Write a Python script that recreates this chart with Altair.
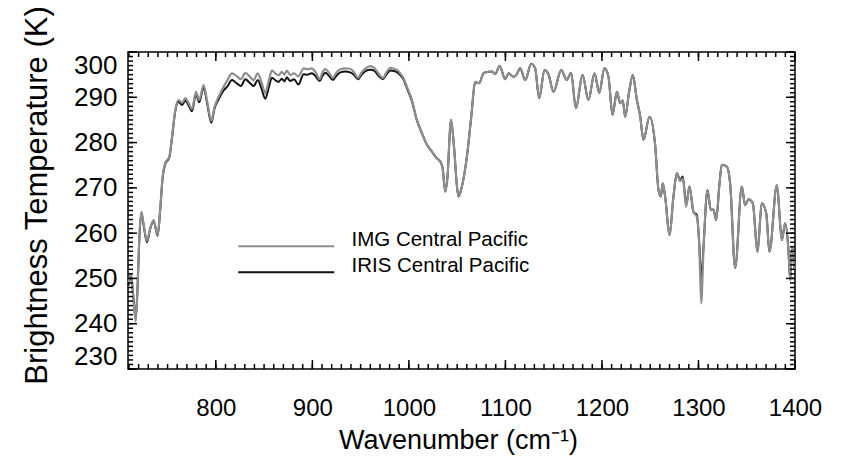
import altair as alt
import pandas as pd

# ---------------- data ----------------
wavenumber = [
    709.5, 712.0, 715.0, 717.0, 719.0, 720.7, 722.8, 725.0, 728.7, 732.0,
    735.5, 739.7, 742.5, 744.9, 747.6, 751.8, 754.6, 758.0, 761.4, 765.0,
    768.4, 771.8, 775.3, 779.4, 782.8, 787.3, 790.8, 795.3, 798.7, 802.8,
    808.0, 812.0, 816.7, 822.0, 826.0, 830.5, 835.0, 839.2, 843.4, 847.5,
    851.2, 855.0, 858.0, 862.0, 865.0, 868.4, 871.0, 873.6, 877.0, 881.0,
    885.5, 891.0, 895.0, 899.5, 903.5, 907.5, 910.5, 913.4, 917.0, 921.3,
    925.0, 929.0, 934.0, 939.2, 943.0, 947.2, 951.0, 955.0, 960.0, 964.0,
    968.0, 973.1, 977.0, 980.7, 984.5, 988.0, 991.0, 994.5, 998.0, 1003.1,
    1008.3, 1013.5, 1018.7, 1023.9, 1029.0, 1032.5, 1035.0, 1037.6, 1040.0, 1043.5,
    1047.0, 1049.5, 1051.4, 1054.9, 1060.1, 1064.6, 1068.7, 1072.8, 1077.3, 1081.5,
    1086.0, 1089.4, 1093.9, 1099.8, 1103.2, 1108.4, 1111.5, 1115.3, 1120.5, 1126.7,
    1130.8, 1135.0, 1140.5, 1144.6, 1149.8, 1157.8, 1163.6, 1168.0, 1173.0, 1179.9,
    1186.0, 1192.3, 1197.2, 1202.6, 1206.8, 1210.9, 1215.5, 1218.9, 1221.5, 1224.1,
    1228.0, 1232.0, 1236.2, 1239.5, 1243.0, 1249.3, 1255.1, 1258.6, 1261.0, 1263.0,
    1265.5, 1270.0, 1274.1, 1277.6, 1281.0, 1283.8, 1287.2, 1290.7, 1294.8, 1298.3,
    1301.0, 1302.8, 1305.2, 1309.3, 1312.8, 1315.5, 1318.3, 1321.8, 1324.2, 1329.4,
    1332.8, 1338.0, 1344.9, 1348.3, 1351.8, 1356.3, 1361.1, 1365.6, 1370.2, 1373.5,
    1381.2, 1386.4, 1389.8, 1393.2, 1395.0, 1397.0, 1399.5,
]

img_bt = [
    249.0, 251.0, 244.5, 240.5, 249.0, 259.0, 264.7, 262.3, 258.3, 261.1,
    262.9, 259.6, 265.8, 272.5, 275.5, 276.9, 281.3, 287.2, 289.4, 288.8,
    289.8, 288.7, 287.4, 291.2, 289.4, 292.7, 289.4, 284.8, 287.9, 290.1,
    292.3, 293.8, 295.3, 294.6, 294.0, 295.4, 294.6, 293.8, 295.3, 293.2,
    290.9, 293.8, 295.9, 295.2, 294.9, 295.6, 295.0, 295.9, 294.9, 295.3,
    294.6, 296.4, 296.2, 296.4, 295.5, 294.0, 295.5, 296.2, 295.5, 294.3,
    295.5, 296.2, 296.4, 296.3, 295.6, 294.3, 295.5, 296.4, 296.9, 296.5,
    295.4, 294.3, 295.6, 296.5, 296.3, 296.0, 295.3, 294.2, 292.3, 289.4,
    285.0, 282.1, 279.5, 278.0, 276.5, 275.8, 274.3, 269.2, 272.5, 285.0,
    278.4, 271.0, 268.1, 270.3, 276.9, 285.7, 293.4, 293.1, 295.3, 295.6,
    295.7, 295.1, 296.9, 294.0, 295.3, 294.5, 295.0, 296.4, 293.8, 297.4,
    296.4, 289.8, 296.0, 295.1, 291.2, 296.0, 293.8, 295.4, 287.6, 294.9,
    289.4, 295.3, 291.0, 296.4, 294.5, 286.1, 291.2, 288.7, 289.3, 285.7,
    291.0, 294.9, 289.4, 286.0, 280.6, 285.7, 279.5, 269.5, 268.1, 271.0,
    268.0, 259.6, 268.1, 273.2, 271.5, 272.1, 265.8, 270.3, 264.7, 263.6,
    256.3, 244.5, 256.3, 269.5, 265.1, 265.2, 262.9, 271.0, 275.1, 274.7,
    271.0, 252.3, 270.3, 266.2, 267.5, 266.6, 255.9, 266.6, 264.4, 255.9,
    270.6, 258.5, 262.2, 256.3, 249.7, 257.0, 252.0,
]

iris_bt = [
    248.5, 250.5, 245.0, 241.0, 248.5, 258.5, 264.5, 262.0, 258.0, 261.0,
    262.7, 259.4, 265.5, 272.3, 275.3, 276.7, 281.0, 287.0, 289.0, 288.3,
    289.3, 288.2, 286.9, 290.7, 288.9, 292.2, 288.9, 284.4, 287.6, 289.5,
    291.5, 292.4, 293.8, 293.0, 292.5, 294.0, 293.2, 292.5, 293.8, 291.8,
    289.7, 292.3, 294.3, 293.7, 293.4, 294.1, 293.5, 294.4, 293.6, 294.0,
    292.8, 295.1, 295.0, 295.3, 294.6, 293.6, 294.7, 295.4, 294.8, 293.8,
    294.8, 295.5, 295.7, 295.5, 295.0, 294.0, 295.0, 295.8, 296.1, 295.9,
    294.9, 294.0, 295.1, 295.9, 295.8, 295.5, 294.9, 293.9, 292.0, 289.2,
    284.9, 282.1, 279.5, 278.0, 276.5, 275.8, 274.3, 269.2, 272.5, 285.0,
    278.4, 271.0, 268.1, 270.3, 276.9, 285.7, 293.4, 293.1, 295.3, 295.6,
    295.7, 295.1, 296.9, 294.0, 295.3, 294.5, 295.0, 296.4, 293.8, 297.4,
    296.4, 289.8, 296.0, 295.1, 291.2, 296.0, 293.8, 295.4, 287.6, 294.9,
    289.4, 295.3, 291.0, 296.4, 294.5, 286.1, 291.2, 288.7, 289.3, 285.7,
    291.0, 294.9, 289.4, 286.0, 280.6, 285.7, 279.5, 269.5, 268.1, 271.0,
    268.0, 259.6, 268.1, 273.2, 271.8, 272.5, 266.3, 270.3, 264.7, 264.0,
    257.0, 249.5, 257.0, 269.5, 265.1, 265.2, 262.9, 271.0, 275.1, 274.7,
    271.0, 252.3, 270.3, 266.2, 267.5, 266.6, 255.9, 266.6, 264.4, 255.9,
    270.6, 258.5, 262.2, 256.3, 249.7, 257.0, 252.0,
]

series_names = ["IMG Central Pacific", "IRIS Central Pacific"]
series_colors = ["#8e8e8e", "#111111"]

x_domain = [709, 1400]
y_domain = [230, 300]
x_major = [800, 900, 1000, 1100, 1200, 1300, 1400]
x_minor = list(range(710, 1401, 10))
y_major = [230, 240, 250, 260, 270, 280, 290, 300]
y_minor = list(range(230, 301, 1))

x_title = "Wavenumber (cm⁻¹)"
y_title = "Brightness Temperature (K)"

# ---------------- tables ----------------
df_img = pd.DataFrame({"wn": wavenumber, "bt": img_bt, "series": series_names[0]})
df_iris = pd.DataFrame({"wn": wavenumber, "bt": iris_bt, "series": series_names[1]})

W, H = 667, 317
FONT = "Liberation Sans"
x_scale = alt.Scale(domain=x_domain, nice=False, zero=False)
y_scale = alt.Scale(domain=y_domain, nice=False, zero=False)
color_scale = alt.Scale(domain=series_names, range=series_colors)

legend = alt.Legend(
    orient="none", legendX=148, legendY=184, title=None,
    symbolType="M-16,0H16", symbolSize=36, symbolStrokeWidth=2,
    labelFont=FONT, labelFontSize=20.5, labelColor="black",
    labelOffset=55, labelBaseline="alphabetic", rowPadding=5,
    padding=0, labelLimit=400,
)

main_x_axis = alt.Axis(
    values=x_major, format="d", ticks=False, domain=False, grid=False,
    labelFont=FONT, labelFontSize=24, labelColor="black", labelPadding=27,
    labelFlush=False,
    title=x_title, titleFont=FONT, titleFontSize=27, titleFontWeight="normal",
    titleColor="black", titleX=330, titleY=79, titleBaseline="alphabetic",
    titleAlign="center",
)
main_y_axis = alt.Axis(
    values=y_major, format="d", ticks=False, domain=False, grid=False,
    labelFont=FONT, labelFontSize=26, labelColor="black", labelPadding=11,
    labelFlush=True,
    title=y_title, titleFont=FONT, titleFontSize=31, titleFontWeight="normal",
    titleColor="black", titleX=-82, titleY=143, titleAngle=-90,
    titleBaseline="alphabetic", titleAlign="center",
)

iris_layer = alt.Chart(df_iris).mark_line(strokeWidth=2, interpolate="monotone").encode(
    x=alt.X("wn:Q", scale=x_scale, axis=main_x_axis, title=x_title),
    y=alt.Y("bt:Q", scale=y_scale, axis=main_y_axis, title=y_title),
    color=alt.Color("series:N", scale=color_scale, legend=legend),
)

img_layer = alt.Chart(df_img).mark_line(strokeWidth=2.2, interpolate="monotone").encode(
    x=alt.X("wn:Q", scale=x_scale, axis=main_x_axis, title=x_title),
    y=alt.Y("bt:Q", scale=y_scale, axis=main_y_axis, title=y_title),
    color=alt.Color("series:N", scale=color_scale, legend=legend),
)


# inward-pointing frame ticks, drawn from the tick-value lists via the scales
def y_ticks(values, length, right):
    d = pd.DataFrame({"v": values})
    x0 = W if right else 0
    x1 = W - length if right else length
    return alt.Chart(d).mark_rule(color="#000000", strokeWidth=1.5).encode(
        y=alt.Y("v:Q", scale=y_scale, axis=main_y_axis, title=y_title),
        x=alt.value(x0), x2=alt.value(x1),
    )


def x_ticks(values, length, top):
    d = pd.DataFrame({"v": values})
    y0 = 0 if top else H
    y1 = length if top else H - length
    return alt.Chart(d).mark_rule(color="#000000", strokeWidth=1.5).encode(
        x=alt.X("v:Q", scale=x_scale, axis=main_x_axis, title=x_title),
        y=alt.value(y0), y2=alt.value(y1),
    )


chart = alt.layer(
    iris_layer,
    img_layer,
    y_ticks(y_major, 9, False), y_ticks(y_major, 9, True),
    y_ticks(y_minor, 5, False), y_ticks(y_minor, 5, True),
    x_ticks(x_major, 9, False), x_ticks(x_major, 9, True),
    x_ticks(x_minor, 5, False), x_ticks(x_minor, 5, True),
).properties(
    width=W, height=H,
    autosize=alt.AutoSizeParams(type="none"),
    padding={"left": 128, "top": 52, "right": 49, "bottom": 100},
    background="white",
).configure_view(
    stroke="black", strokeWidth=1.5
)

chart.save("out.html", embed_options={"renderer": "svg", "actions": False})
